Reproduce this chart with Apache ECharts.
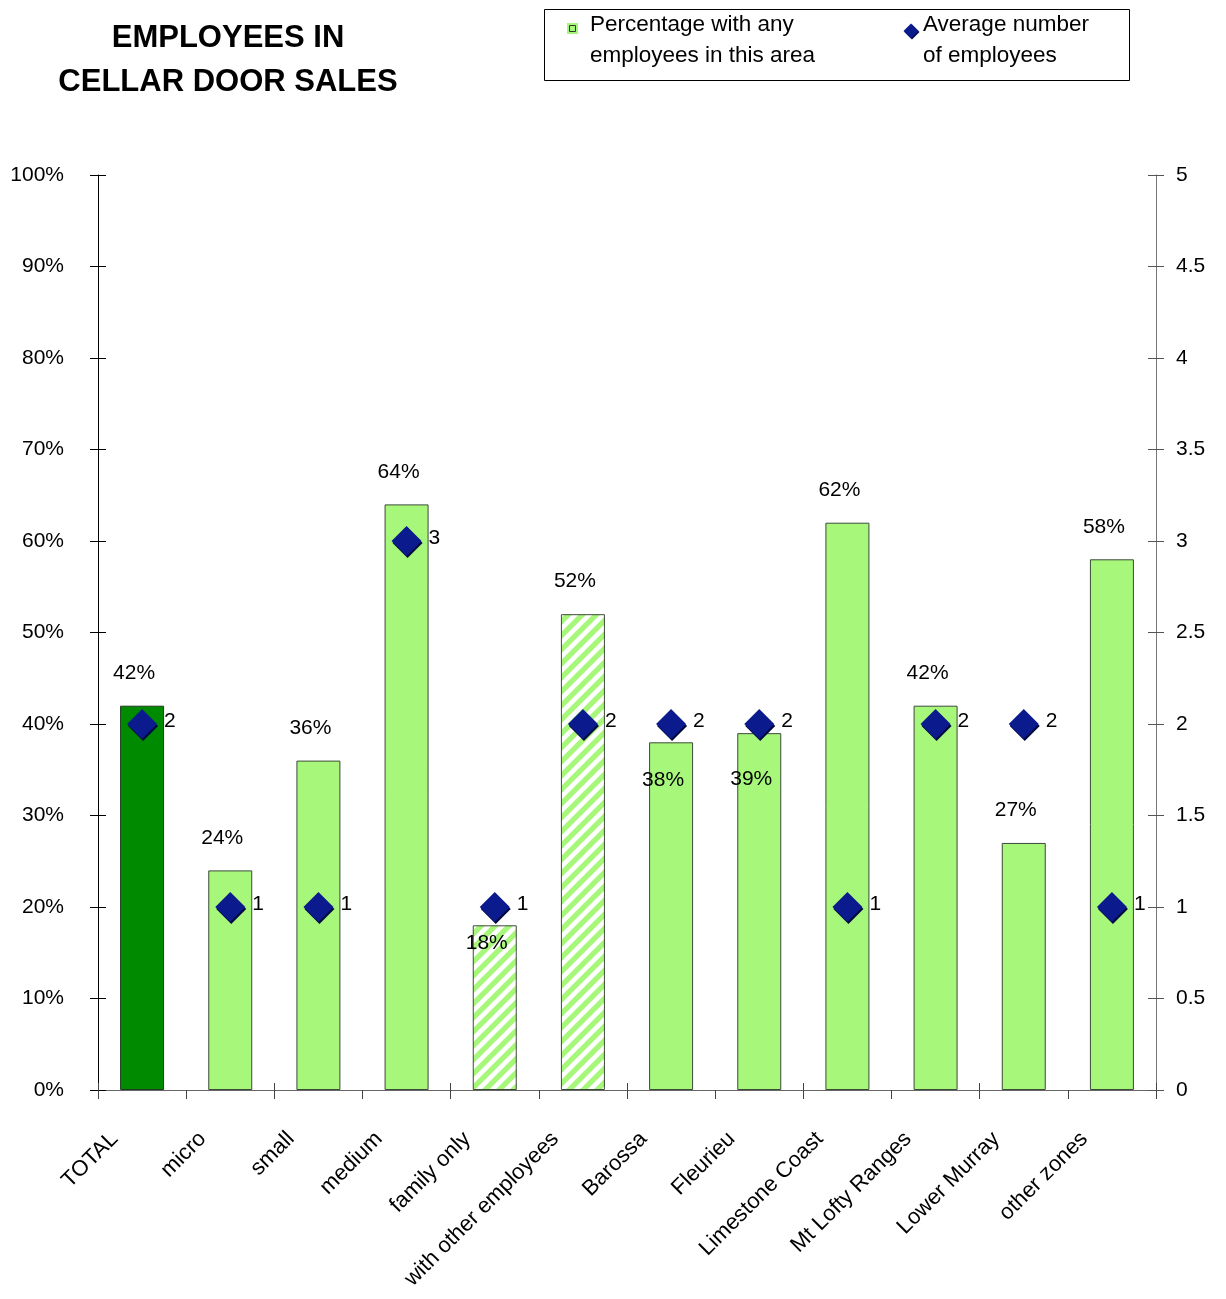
<!DOCTYPE html>
<html>
<head>
<meta charset="utf-8">
<title>Employees in cellar door sales</title>
<script src="https://cdn.jsdelivr.net/npm/echarts@6/dist/echarts.min.js"></script>
<style>
  html, body { margin: 0; padding: 0; background: #ffffff; }
  #chart { width: 1226px; height: 1299px; }
</style>
</head>
<body>
<div id="chart"></div>
<script>
// Categories along the bottom axis
const categories = ['TOTAL', 'micro', 'small', 'medium', 'family only', 'with other employees',
  'Barossa', 'Fleurieu', 'Limestone Coast', 'Mt Lofty Ranges', 'Lower Murray', 'other zones'];

// Percentage of wineries with any employees in cellar door sales (%)
const pctWithEmployees = [42, 24, 36, 64, 18, 52, 38, 39, 62, 42, 27, 58];

// Average number of employees in cellar door sales
const avgEmployees = [2, 1, 1, 3, 1, 2, 2, 2, 1, 2, 2, 1];

// Tick labels
const pctTicks = { min: 0, max: 100, step: 10 };
const avgTicks = { min: 0, max: 5, step: 0.5 };

const FONT = '"Liberation Sans", Arial, sans-serif';
const LIGHT_GREEN = '#a7f77b';
const DARK_GREEN = '#008a00';
const NAVY = '#0b1a8c';

// Diagonal white-on-green stripe fill for the employee-type bars
function makeStripes() {
  const s = 14;
  const c = document.createElement('canvas');
  c.width = s; c.height = s;
  const g = c.getContext('2d');
  g.fillStyle = LIGHT_GREEN;
  g.fillRect(0, 0, s, s);
  g.strokeStyle = '#ffffff';
  g.lineWidth = 4.5;
  g.beginPath();
  g.moveTo(-s, s); g.lineTo(s, -s);
  g.moveTo(0, 2 * s); g.lineTo(2 * s, 0);
  g.moveTo(0, s); g.lineTo(s, 0);
  g.stroke();
  return c;
}
const stripes = { image: makeStripes(), repeat: 'repeat' };

// Per-bar fill and label placement
const barData = pctWithEmployees.map((v, i) => {
  let color = LIGHT_GREEN;
  let border = '#3c4a38';
  if (i === 0) { color = DARK_GREEN; border = '#1f3a1f'; }
  if (i === 4 || i === 5) color = stripes;
  const item = { value: v, itemStyle: { color: color, borderColor: border, borderWidth: 1 } };
  if (i === 4) item.label = { position: 'insideTop', distance: 7 };
  if (i === 6) item.label = { position: 'insideTop', distance: 27 };
  if (i === 7) item.label = { position: 'insideTop', distance: 36 };
  return item;
});

const chart = echarts.init(document.getElementById('chart'), null, { renderer: 'canvas' });

const baseText = { fontFamily: FONT, color: '#000', fontSize: 21 };

const option = {
  backgroundColor: '#ffffff',
  animation: false,
  textStyle: { fontFamily: FONT },
  title: {
    text: 'EMPLOYEES IN\nCELLAR DOOR SALES',
    left: 223,
    top: 11,
    textAlign: 'center',
    textStyle: { fontFamily: FONT, fontSize: 31, fontWeight: 'bold', color: '#000', lineHeight: 44 }
  },
  grid: { left: 98, right: 70, top: 175, bottom: 209, containLabel: false },
  xAxis: [
    {
      type: 'category',
      data: categories,
      position: 'bottom',
      axisLine: { show: true, lineStyle: { color: '#666', width: 1 } },
      axisTick: { show: true, length: 9, lineStyle: { color: '#444' } },
      axisLabel: {
        interval: 0, rotate: 45, margin: 18, padding: [0, 39, 0, 0],
        fontFamily: FONT, fontSize: 22, color: '#000'
      },
      splitLine: { show: false }
    },
    {
      type: 'category',
      data: categories,
      position: 'bottom',
      axisLine: { show: false },
      axisTick: { show: true, inside: true, length: 7, lineStyle: { color: '#444' } },
      axisLabel: { show: false },
      splitLine: { show: false }
    }
  ],
  yAxis: [
    {
      type: 'value', position: 'left',
      min: pctTicks.min, max: pctTicks.max, interval: pctTicks.step,
      axisLine: { show: true, lineStyle: { color: '#000', width: 1 } },
      axisTick: { show: true, length: 8, lineStyle: { color: '#000' } },
      axisLabel: { formatter: '{value}%', margin: 34, ...baseText },
      splitLine: { show: false }
    },
    {
      type: 'value', position: 'right',
      min: avgTicks.min, max: avgTicks.max, interval: avgTicks.step,
      axisLine: { show: true, lineStyle: { color: '#777', width: 1 } },
      axisTick: { show: true, length: 8, lineStyle: { color: '#555' } },
      axisLabel: { margin: 20, ...baseText },
      splitLine: { show: false }
    },
    {
      type: 'value', position: 'left',
      min: pctTicks.min, max: pctTicks.max, interval: pctTicks.step,
      axisLine: { show: false },
      axisTick: { show: true, inside: true, length: 8, lineStyle: { color: '#000' } },
      axisLabel: { show: false },
      splitLine: { show: false }
    },
    {
      type: 'value', position: 'right',
      min: avgTicks.min, max: avgTicks.max, interval: avgTicks.step,
      axisLine: { show: false },
      axisTick: { show: true, inside: true, length: 8, lineStyle: { color: '#555' } },
      axisLabel: { show: false },
      splitLine: { show: false }
    }
  ],
  series: [
    {
      name: 'Percentage with any employees in this area',
      type: 'bar',
      xAxisIndex: 0,
      yAxisIndex: 0,
      barWidth: 44,
      data: barData,
      label: {
        show: true, position: 'top', distance: 22, offset: [-8, 0],
        formatter: '{c}%', ...baseText
      },
      z: 2
    },
    {
      name: 'Average number of employees',
      type: 'scatter',
      xAxisIndex: 0,
      yAxisIndex: 1,
      symbol: 'diamond',
      symbolSize: 30,
      data: avgEmployees,
      itemStyle: {
        color: NAVY, opacity: 1,
        shadowColor: '#00083f', shadowOffsetX: 1, shadowOffsetY: 2, shadowBlur: 0
      },
      label: { show: true, position: 'right', distance: 7, offset: [0, -3], opacity: 1, ...baseText },
      z: 5
    }
  ],
  graphic: [
    {
      type: 'rect', silent: true,
      shape: { x: 544.5, y: 9.5, width: 585, height: 71 },
      style: { fill: 'none', stroke: '#000', lineWidth: 1 }
    },
    {
      type: 'rect', silent: true,
      shape: { x: 567, y: 23, width: 11, height: 11 },
      style: { fill: LIGHT_GREEN, stroke: 'none' }
    },
    {
      type: 'rect', silent: true,
      shape: { x: 569.5, y: 25.5, width: 6, height: 6 },
      style: { fill: LIGHT_GREEN, stroke: '#333', lineWidth: 1 }
    },
    {
      type: 'text', silent: true, x: 590, y: 9,
      style: {
        text: 'Percentage with any\nemployees in this area',
        fontFamily: FONT, fontSize: 22.5, lineHeight: 31, fill: '#000',
        textVerticalAlign: 'top'
      }
    },
    {
      type: 'polygon', silent: true,
      shape: { points: [[911, 23.5], [918.5, 31], [911, 38.5], [903.5, 31]] },
      style: { fill: NAVY, shadowColor: '#00083f', shadowOffsetX: 1, shadowOffsetY: 1 }
    },
    {
      type: 'text', silent: true, x: 923, y: 9,
      style: {
        text: 'Average number\nof employees',
        fontFamily: FONT, fontSize: 22.5, lineHeight: 31, fill: '#000',
        textVerticalAlign: 'top'
      }
    }
  ]
};

chart.setOption(option);
</script>
</body>
</html>
